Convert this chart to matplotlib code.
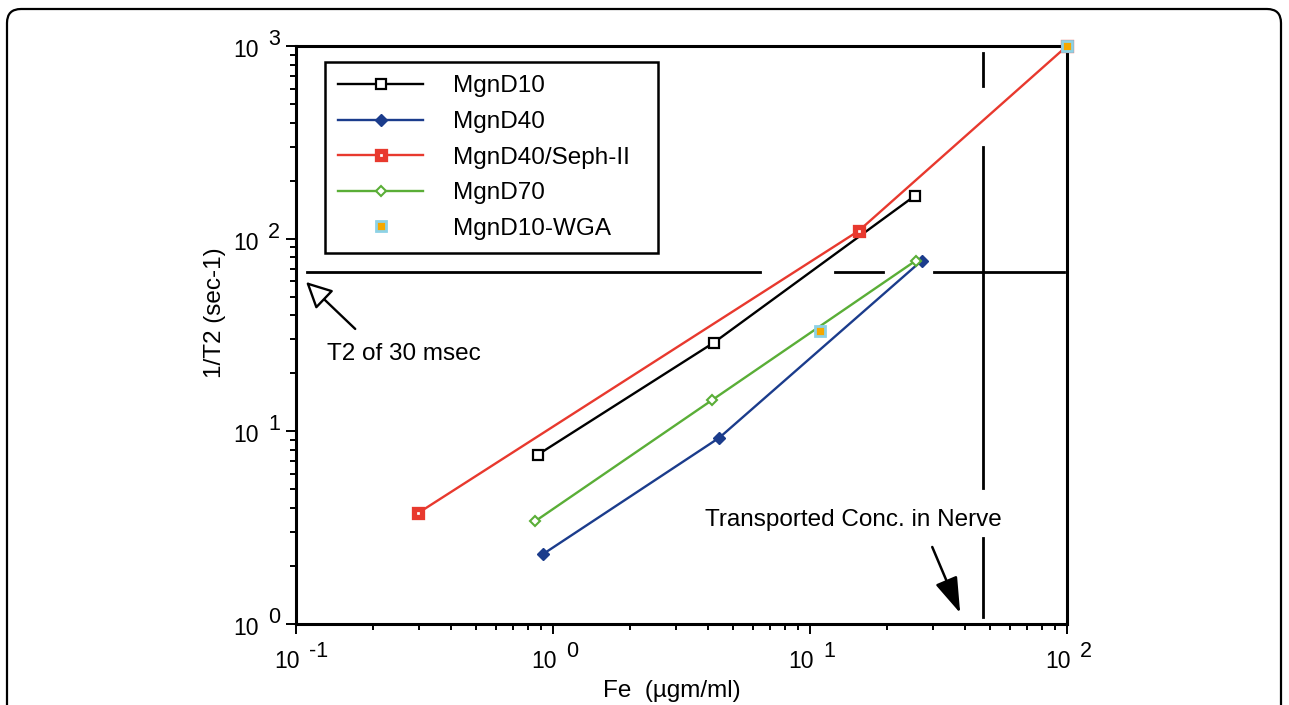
import matplotlib
matplotlib.use('Agg')
import matplotlib.pyplot as plt
from matplotlib.patches import FancyBboxPatch
from matplotlib.transforms import IdentityTransform

plt.rcParams['font.family'] = ['Liberation Sans', 'DejaVu Sans']

# ---- data ----
d10_x = [0.875, 4.23, 25.6]
d10_y = [7.58, 28.9, 167]
d40_x = [0.912, 4.44, 27.2]
d40_y = [2.30, 9.27, 76.9]
seph_x = [0.299, 15.5, 100]
seph_y = [3.77, 110, 1000]
d70_x = [0.851, 4.15, 25.8]
d70_y = [3.41, 14.5, 76.9]
wga_x = [10.9, 100]
wga_y = [33.2, 1000]

series_labels = ['MgnD10', 'MgnD40', 'MgnD40/Seph-II', 'MgnD70', 'MgnD10-WGA']

t2_level = 67.1
t2_segments = [(0.1104, 6.39), (12.5, 19.2), (30.3, 97.3)]
nerve_conc = 47.1
nerve_segments = [(620, 919), (5.08, 299), (1.087, 2.79)]

t2_arrow_tip = (0.1094, 59.6)
t2_arrow_tail = (0.170, 34.0)
t2_text_pos = (0.132, 23.5)
nerve_arrow_tip = (38.4, 1.14)
nerve_arrow_tail = (29.9, 2.51)
nerve_text_pos = (3.90, 3.23)

xticks = [0.1, 1, 10, 100]
xtick_exp = ['-1', '0', '1', '2']
yticks = [1, 10, 100, 1000]
ytick_exp = ['0', '1', '2', '3']

# ---- figure ----
W, H = 1289, 705
fig = plt.figure(figsize=(W / 100, H / 100), dpi=100)
ax = fig.add_axes([296 / W, 81 / H, 771 / W, 578 / H])
ax.set_xscale('log')
ax.set_yscale('log')
ax.set_xlim(0.1, 100)
ax.set_ylim(1, 1000)

for s in ax.spines.values():
    s.set_linewidth(2.2)
ax.tick_params(which='both', direction='out', top=False, right=False,
               labelbottom=False, labelleft=False, width=1.4, color='black')
ax.tick_params(which='major', length=7.5)
ax.tick_params(which='minor', length=4)

blue = '#1b3c8c'
red = '#e8392e'
green = '#5aae37'

ax.plot(d10_x, d10_y, color='black', lw=1.7, marker='s', ms=7.7, mfc='white',
        mec='black', mew=1.6, label=series_labels[0], clip_on=False, zorder=3)
ax.plot(d40_x, d40_y, color=blue, lw=1.7, marker='D', ms=6.5, mfc=blue,
        mec=blue, mew=1.0, label=series_labels[1], clip_on=False, zorder=3)
ax.plot(seph_x, seph_y, color=red, lw=1.7, marker='s', ms=5.5, mfc='white',
        mec=red, mew=3.8, label=series_labels[2], clip_on=False, zorder=4)
ax.plot(d70_x, d70_y, color=green, lw=1.7, marker='D', ms=5.5, mfc='white',
        mec=green, mew=1.5, label=series_labels[3], clip_on=False, zorder=3)
ax.plot(wga_x, wga_y, linestyle='none', marker='s', ms=7, mfc='#f6a800',
        mec='#8dd2e6', mew=2.0, label=series_labels[4], clip_on=False, zorder=5)

# reference lines
for a, b in t2_segments:
    ax.plot([a, b], [t2_level, t2_level], color='black', lw=2.0, zorder=2)
for a, b in nerve_segments:
    ax.plot([nerve_conc, nerve_conc], [a, b], color='black', lw=2.0, zorder=2)

# arrows and annotation text
ax.annotate('', xy=t2_arrow_tip, xytext=t2_arrow_tail,
            arrowprops=dict(arrowstyle='-|>,head_length=0.8,head_width=0.4',
                            fc='white', ec='black', lw=1.7, mutation_scale=20,
                            shrinkA=0, shrinkB=0))
ax.text(*t2_text_pos, 'T2 of 30 msec', fontsize=17.5, ha='left', va='baseline')

ax.annotate('', xy=nerve_arrow_tip, xytext=nerve_arrow_tail,
            arrowprops=dict(arrowstyle='-|>,head_length=1.1,head_width=0.36',
                            fc='black', ec='black', lw=1.8, mutation_scale=20,
                            shrinkA=0, shrinkB=0))
ax.text(*nerve_text_pos, 'Transported Conc. in Nerve', fontsize=17.5,
        ha='left', va='baseline')

# tick labels "10" with raised exponent
for v, e in zip(xticks, xtick_exp):
    ax.annotate('10', xy=(v, 0), xycoords=('data', 'axes fraction'),
                xytext=(4, -44), textcoords='offset pixels',
                ha='right', va='baseline', fontsize=16.5, annotation_clip=False)
    ax.annotate(e, xy=(v, 0), xycoords=('data', 'axes fraction'),
                xytext=(13, -33), textcoords='offset pixels',
                ha='left', va='baseline', fontsize=15.5, annotation_clip=False)
for v, e in zip(yticks, ytick_exp):
    ax.annotate('10', xy=(0, v), xycoords=('axes fraction', 'data'),
                xytext=(-37, -11), textcoords='offset pixels',
                ha='right', va='baseline', fontsize=16.5, annotation_clip=False)
    ax.annotate(e, xy=(0, v), xycoords=('axes fraction', 'data'),
                xytext=(-28, 1), textcoords='offset pixels',
                ha='left', va='baseline', fontsize=15.5, annotation_clip=False)

# axis labels
ax.set_xlabel('Fe  (\u00b5gm/ml)', fontsize=17.5)
ax.xaxis.label.set_va('baseline')
ax.xaxis.set_label_coords(0.488, -73 / 578)
ax.set_ylabel('1/T2 (sec-1)', fontsize=17.5)
ax.yaxis.label.set_va('center')
ax.yaxis.set_label_coords((215 - 296) / 771, (624 - 313) / 578)

# legend
leg = ax.legend(loc='upper left',
                bbox_to_anchor=((325 - 296) / 771, (624 - 257) / 578, 333 / 771, 195 / 578),
                mode='expand', borderaxespad=0, frameon=True, fancybox=False,
                edgecolor='black', framealpha=1, fontsize=17.5, handlelength=3.5,
                handletextpad=1.2, labelspacing=0.56, borderpad=0.55)
leg.get_frame().set_linewidth(1.8)

# outer rounded frame
frame = FancyBboxPatch((7, -30), 1274, 726, boxstyle='round,pad=0,rounding_size=14',
                       transform=IdentityTransform(), fill=False, ec='black', lw=1.6)
fig.add_artist(frame)

fig.savefig('out.png', dpi=100)
